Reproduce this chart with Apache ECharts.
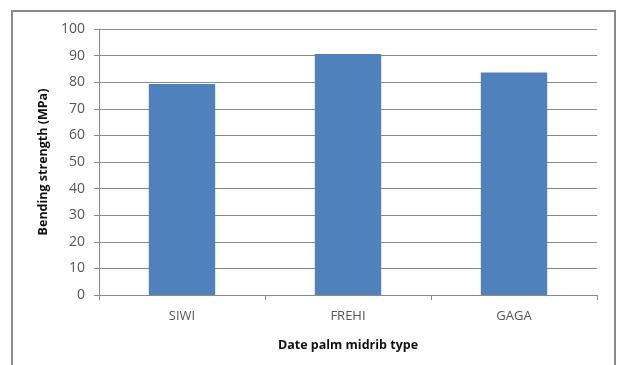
<!DOCTYPE html>
<html>
<head>
<meta charset="utf-8">
<script src="https://cdn.jsdelivr.net/npm/echarts@6/dist/echarts.min.js"></script>
<style>
  html, body { margin: 0; padding: 0; background: #fff; }
  #chart { width: 617px; height: 365px; }
</style>
</head>
<body>
<div id="chart"></div>
<script>
var categories = ['SIWI', 'FREHI', 'GAGA']
var strength = [79.3, 90.6, 83.6]
var yTicks = { min: 0, max: 100, interval: 10 }

var chart = echarts.init(document.getElementById('chart'))
chart.setOption({
  animation: false,
  textStyle: { fontFamily: 'Open Sans' },
  graphic: [{
    type: 'rect',
    shape: { x: 12, y: 11, width: 603, height: 380 },
    style: { fill: 'none', stroke: '#8a8a8a', lineWidth: 2 },
    silent: true
  }],
  grid: { left: 99, right: 20, top: 29, bottom: 70 },
  xAxis: {
    type: 'category',
    data: categories,
    name: 'Date palm midrib type',
    nameLocation: 'middle',
    nameGap: 44,
    nameTextStyle: { fontWeight: 'bold', fontSize: 12.5, color: '#111' },
    axisLine: { lineStyle: { color: '#8a8a8a' } },
    axisTick: { show: true, length: 5, lineStyle: { color: '#8a8a8a' } },
    axisLabel: { color: '#555', fontSize: 13, margin: 15 }
  },
  yAxis: {
    type: 'value',
    min: yTicks.min,
    max: yTicks.max,
    interval: yTicks.interval,
    name: 'Bending strength (MPa)',
    nameLocation: 'middle',
    nameGap: 48,
    nameTextStyle: { fontWeight: 'bold', fontSize: 12.5, color: '#111' },
    axisLine: { show: true, lineStyle: { color: '#8a8a8a' } },
    axisTick: { show: true, length: 5, lineStyle: { color: '#8a8a8a' } },
    axisLabel: { color: '#555', fontSize: 14, margin: 14 },
    splitLine: { lineStyle: { color: '#8a8a8a' } }
  },
  series: [{
    type: 'bar',
    data: strength,
    barWidth: '40%',
    itemStyle: { color: '#4f81bd' }
  }]
})
</script>
</body>
</html>
